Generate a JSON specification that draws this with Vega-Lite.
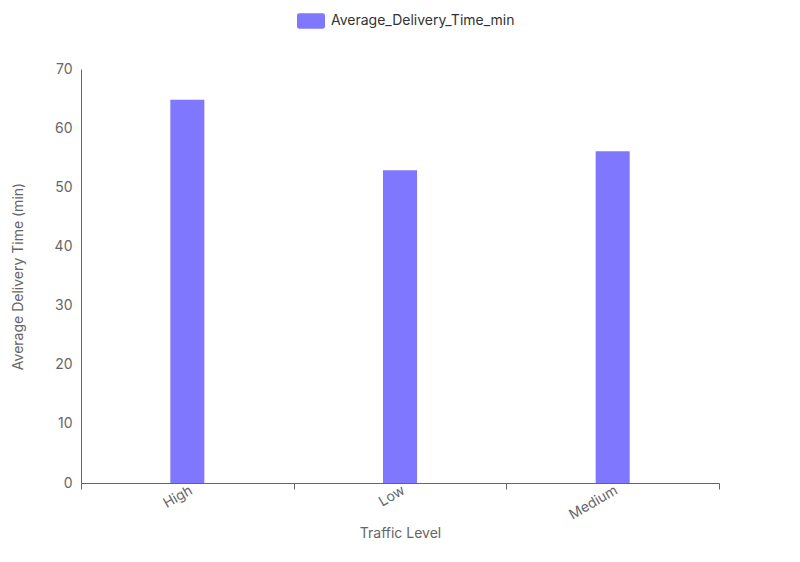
{
  "$schema": "https://vega.github.io/schema/vega-lite/v6.json",
  "autosize": "none",
  "width": 638,
  "height": 414,
  "padding": {"left": 81, "top": 69, "right": 81, "bottom": 79},
  "background": "white",
  "config": {
    "font": "Inter",
    "view": {"stroke": null},
    "axis": {
      "labelFont": "Inter",
      "titleFont": "Inter",
      "labelColor": "#666666",
      "titleColor": "#666666",
      "domainColor": "#666666",
      "tickColor": "#666666",
      "labelFontSize": 14,
      "titleFontSize": 14,
      "titleFontWeight": "normal",
      "grid": false
    },
    "legend": {"labelFont": "Inter"}
  },
  "data": {
    "values": [
      {"Traffic_Level": "High", "Average_Delivery_Time_min": 64.8, "series": "Average_Delivery_Time_min"},
      {"Traffic_Level": "Low", "Average_Delivery_Time_min": 52.9, "series": "Average_Delivery_Time_min"},
      {"Traffic_Level": "Medium", "Average_Delivery_Time_min": 56.1, "series": "Average_Delivery_Time_min"}
    ]
  },
  "mark": {"type": "bar", "width": {"band": 0.16}},
  "encoding": {
    "x": {
      "field": "Traffic_Level",
      "type": "nominal",
      "sort": null,
      "scale": {"paddingInner": 0, "paddingOuter": 0},
      "axis": {
        "title": "Traffic Level",
        "labelAngle": -30,
        "labelAlign": "right",
        "labelBaseline": "top",
        "labelPadding": -6,
        "tickBand": "extent",
        "tickSize": 6,
        "titlePadding": 5
      }
    },
    "y": {
      "field": "Average_Delivery_Time_min",
      "type": "quantitative",
      "scale": {"domain": [0, 70]},
      "axis": {
        "title": "Average Delivery Time (min)",
        "values": [0, 10, 20, 30, 40, 50, 60, 70],
        "ticks": false,
        "labelPadding": 9,
        "titlePadding": 29
      }
    },
    "color": {
      "field": "series",
      "type": "nominal",
      "scale": {"range": ["#7f78ff"]},
      "legend": {
        "title": null,
        "orient": "none",
        "legendX": 216,
        "legendY": -62,
        "padding": 0,
        "symbolType": "M-0.85,-0.55 L0.85,-0.55 Q1,-0.55 1,-0.4 L1,0.4 Q1,0.55 0.85,0.55 L-0.85,0.55 Q-1,0.55 -1,0.4 L-1,-0.4 Q-1,-0.55 -0.85,-0.55 Z",
        "symbolSize": 784,
        "symbolStrokeWidth": 0,
        "symbolOpacity": 1,
        "labelFontSize": 14,
        "labelLimit": 0,
        "labelColor": "#333333",
        "labelOffset": 6
      }
    }
  }
}
